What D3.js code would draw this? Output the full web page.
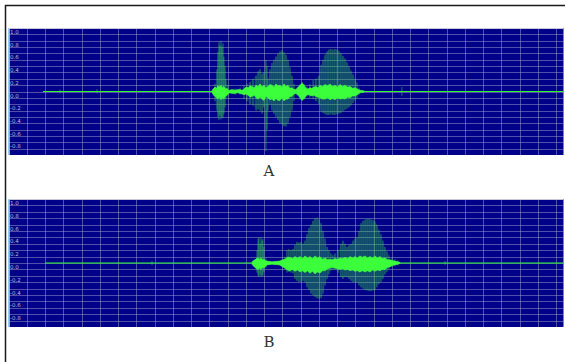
<!DOCTYPE html>
<html>
<head>
<meta charset="utf-8">
<script src="https://cdn.jsdelivr.net/npm/d3@7"></script>
<style>
  html, body { margin: 0; padding: 0; background: #fff; }
  svg { display: block; }
</style>
</head>
<body>
<div class="chart"></div>
<script>
// time axis (seconds) and amplitude ticks
const duration = 3.04;
const gridTimes = d3.range(1, 31).map(d => d / 10);
const gridAmps = d3.range(-9, 10).map(d => d / 10);
const ampLabels = [1.0, 0.8, 0.6, 0.4, 0.2, 0.0, -0.2, -0.4, -0.6, -0.8];
const panelNames = ["A", "B"];

// panel A - voiced pulses (peak / trough per pulse)
const aSpikeT  = [0.282, 0.485, 1.131, 1.142, 1.147, 1.153, 1.158, 1.164, 1.169, 1.175, 1.180, 1.186, 1.191, 1.202, 1.219, 1.241, 1.268,
  1.290, 1.306, 1.323, 1.339, 1.356, 1.367, 1.378, 1.389, 1.399, 1.410, 1.416, 1.421, 1.432,
  1.443, 1.454, 1.465, 1.476, 1.487, 1.498, 1.509, 1.520, 1.531, 1.542, 1.553, 1.564, 1.580,
  1.597, 1.608, 1.619, 1.635, 1.651, 1.668, 1.684, 1.701,
  1.712, 1.723, 1.734, 1.745, 1.755, 1.766, 1.777, 1.788, 1.799, 1.810, 1.821, 1.832, 1.843, 1.854, 1.865, 1.876, 1.887, 1.898, 1.909, 1.920, 2.155];
const aSpikeHi = [0.03, 0.04, 0.12, 0.35, 0.62, 0.78, 0.72, 0.80, 0.70, 0.76, 0.55, 0.40, 0.20, 0.10, 0.04, 0.05, 0.06,
  0.10, 0.12, 0.15, 0.20, 0.25, 0.32, 0.35, 0.28, 0.30, 0.50, 0.40, 0.20, 0.35,
  0.45, 0.50, 0.55, 0.60, 0.63, 0.65, 0.62, 0.58, 0.50, 0.38, 0.25, 0.12, 0.06,
  0.12, 0.15, 0.12, 0.08, 0.12, 0.18, 0.20, 0.25,
  0.42, 0.50, 0.58, 0.63, 0.66, 0.67, 0.66, 0.67, 0.66, 0.64, 0.60, 0.56, 0.52, 0.46, 0.40, 0.33, 0.27, 0.20, 0.14, 0.06, 0.07];
const aSpikeLo = [-0.03, -0.03, -0.15, -0.30, -0.40, -0.45, -0.38, -0.44, -0.40, -0.42, -0.35, -0.25, -0.12, -0.08, -0.04, -0.05, -0.05,
  -0.12, -0.15, -0.20, -0.22, -0.30, -0.28, -0.30, -0.35, -0.25, -0.94, -0.60, -0.30, -0.20,
  -0.30, -0.35, -0.40, -0.45, -0.50, -0.52, -0.55, -0.55, -0.50, -0.40, -0.30, -0.15, -0.06,
  -0.13, -0.14, -0.12, -0.08, -0.10, -0.12, -0.15, -0.20,
  -0.31, -0.34, -0.36, -0.37, -0.37, -0.36, -0.37, -0.37, -0.36, -0.35, -0.34, -0.31, -0.29, -0.27, -0.25, -0.22, -0.18, -0.14, -0.10, -0.05, -0.07];
// panel A - dense noisy core around zero
const aCoreT  = [1.115, 1.124, 1.131, 1.139, 1.147, 1.155, 1.164, 1.172, 1.180, 1.189, 1.197, 1.205, 1.213, 1.227, 1.241, 1.255, 1.268, 1.279, 1.290, 1.301, 1.312, 1.323, 1.334, 1.345,
  1.356, 1.367, 1.378, 1.389, 1.399, 1.410, 1.421, 1.432, 1.443, 1.454, 1.465, 1.476, 1.487, 1.498, 1.509, 1.520, 1.531, 1.542, 1.553, 1.564, 1.575,
  1.586, 1.597, 1.608, 1.616, 1.624, 1.632, 1.640, 1.651, 1.662, 1.673, 1.684, 1.695, 1.706, 1.720, 1.734, 1.748, 1.761, 1.775, 1.788, 1.802, 1.816, 1.830,
  1.843, 1.857, 1.871, 1.884, 1.898, 1.911, 1.925, 1.947];
const aCoreHi = [0.02, 0.05, 0.07, 0.05, 0.09, 0.07, 0.10, 0.06, 0.08, 0.04, 0.05, 0.02, 0.02, 0.03, 0.02, 0.03, 0.03, 0.02, 0.04, 0.07, 0.06, 0.09, 0.08, 0.06,
  0.10, 0.08, 0.12, 0.07, 0.10, 0.06, 0.08, 0.11, 0.10, 0.07, 0.12, 0.09, 0.10, 0.07, 0.12, 0.08, 0.10, 0.05, 0.06, 0.03, 0.03,
  0.07, 0.10, 0.13, 0.11, 0.08, 0.05, 0.04, 0.06, 0.05, 0.07, 0.08, 0.06, 0.10, 0.08, 0.11, 0.09, 0.12, 0.08, 0.10, 0.07, 0.11, 0.08,
  0.10, 0.07, 0.08, 0.05, 0.06, 0.04, 0.02, 0.01];
const aCoreLo = [-0.02, -0.06, -0.08, -0.10, -0.12, -0.09, -0.13, -0.10, -0.12, -0.07, -0.06, -0.03, -0.02, -0.03, -0.03, -0.02, -0.03, -0.04, -0.05, -0.04, -0.06, -0.09, -0.08, -0.06,
  -0.10, -0.12, -0.09, -0.12, -0.14, -0.08, -0.10, -0.13, -0.12, -0.15, -0.11, -0.14, -0.14, -0.10, -0.15, -0.12, -0.12, -0.08, -0.08, -0.04, -0.03,
  -0.06, -0.10, -0.14, -0.12, -0.10, -0.06, -0.05, -0.06, -0.07, -0.06, -0.08, -0.09, -0.10, -0.12, -0.12, -0.10, -0.13, -0.11, -0.13, -0.10, -0.12, -0.11,
  -0.12, -0.09, -0.10, -0.07, -0.07, -0.05, -0.02, -0.01];
const aStart = 0.189;

// panel B - voiced pulses
const bSpikeT  = [0.786, 1.350, 1.361, 1.367, 1.372, 1.378, 1.383, 1.389, 1.394, 1.399, 1.410, 1.432, 1.460, 1.487,
  1.514, 1.525, 1.536, 1.547, 1.558, 1.569, 1.580, 1.591, 1.602, 1.613, 1.624, 1.635, 1.646, 1.657, 1.668, 1.679, 1.690, 1.701, 1.712, 1.723, 1.734, 1.745, 1.755, 1.766, 1.777,
  1.788, 1.805, 1.821, 1.832, 1.843, 1.854, 1.865, 1.876, 1.887, 1.898, 1.909, 1.920, 1.931, 1.942, 1.953, 1.964, 1.975, 1.986, 1.997, 2.007, 2.018, 2.029, 2.040, 2.051, 2.062, 2.073, 2.084, 2.101, 2.117, 2.133, 2.391];
const bSpikeHi = [0.03, 0.05, 0.20, 0.38, 0.40, 0.30, 0.40, 0.35, 0.38, 0.25, 0.08, 0.03, 0.03, 0.04,
  0.10, 0.20, 0.22, 0.20, 0.22, 0.28, 0.33, 0.32, 0.33, 0.30, 0.35, 0.45, 0.55, 0.60, 0.66, 0.70, 0.71, 0.68, 0.62, 0.50, 0.38, 0.25, 0.20, 0.15, 0.12,
  0.15, 0.20, 0.30, 0.35, 0.30, 0.25, 0.28, 0.30, 0.35, 0.38, 0.40, 0.50, 0.62, 0.66, 0.68, 0.69, 0.69, 0.68, 0.67, 0.65, 0.60, 0.52, 0.45, 0.35, 0.25, 0.18, 0.12, 0.08, 0.06, 0.04, 0.03];
const bSpikeLo = [-0.03, -0.06, -0.15, -0.20, -0.22, -0.18, -0.22, -0.20, -0.20, -0.14, -0.08, -0.03, -0.03, -0.04,
  -0.10, -0.15, -0.14, -0.15, -0.16, -0.25, -0.28, -0.30, -0.30, -0.28, -0.30, -0.38, -0.42, -0.48, -0.50, -0.53, -0.55, -0.56, -0.55, -0.48, -0.35, -0.25, -0.18, -0.12, -0.10,
  -0.10, -0.15, -0.22, -0.25, -0.22, -0.22, -0.25, -0.28, -0.30, -0.30, -0.30, -0.35, -0.38, -0.40, -0.42, -0.43, -0.44, -0.44, -0.43, -0.42, -0.38, -0.33, -0.30, -0.25, -0.18, -0.14, -0.10, -0.06, -0.05, -0.04, -0.03];
// panel B - dense noisy core
const bCoreT  = [1.334, 1.342, 1.350, 1.358, 1.367, 1.375, 1.383, 1.391, 1.399, 1.408, 1.416, 1.443, 1.487, 1.500, 1.514, 1.528, 1.542, 1.555, 1.569, 1.583, 1.597, 1.610,
  1.624, 1.638, 1.651, 1.665, 1.679, 1.692, 1.706, 1.720, 1.734, 1.748, 1.761, 1.775, 1.788, 1.802, 1.816, 1.830, 1.843, 1.857, 1.871, 1.884, 1.898, 1.911,
  1.925, 1.939, 1.953, 1.966, 1.980, 1.994, 2.007, 2.021, 2.035, 2.048, 2.062, 2.076, 2.090, 2.103, 2.117, 2.144];
const bCoreHi = [0.02, 0.04, 0.05, 0.07, 0.08, 0.06, 0.08, 0.05, 0.06, 0.04, 0.03, 0.02, 0.03, 0.05, 0.06, 0.09, 0.09, 0.07, 0.10, 0.08, 0.10, 0.07,
  0.11, 0.08, 0.10, 0.07, 0.11, 0.08, 0.10, 0.06, 0.08, 0.05, 0.06, 0.05, 0.07, 0.06, 0.08, 0.07, 0.09, 0.07, 0.10, 0.08, 0.10, 0.08,
  0.11, 0.09, 0.11, 0.08, 0.10, 0.08, 0.11, 0.08, 0.10, 0.07, 0.08, 0.05, 0.05, 0.04, 0.03, 0.01];
const bCoreLo = [-0.02, -0.05, -0.07, -0.09, -0.10, -0.08, -0.10, -0.07, -0.08, -0.05, -0.03, -0.02, -0.03, -0.06, -0.08, -0.11, -0.12, -0.10, -0.13, -0.11, -0.14, -0.12,
  -0.15, -0.12, -0.16, -0.13, -0.17, -0.14, -0.16, -0.12, -0.12, -0.09, -0.08, -0.07, -0.08, -0.09, -0.10, -0.09, -0.11, -0.10, -0.12, -0.11, -0.13, -0.12,
  -0.14, -0.12, -0.14, -0.12, -0.14, -0.11, -0.13, -0.11, -0.12, -0.10, -0.10, -0.07, -0.06, -0.04, -0.03, -0.01];
const bStart = 0.200;

const width = 565, height = 362;
const panels = [
  { top: 28, bottom: 155, spikeT: aSpikeT, spikeHi: aSpikeHi, spikeLo: aSpikeLo, coreT: aCoreT, coreHi: aCoreHi, coreLo: aCoreLo, start: aStart, labelY: 176 },
  { top: 199, bottom: 327, spikeT: bSpikeT, spikeHi: bSpikeHi, spikeLo: bSpikeLo, coreT: bCoreT, coreHi: bCoreHi, coreLo: bCoreLo, start: bStart, labelY: 347 }
];

const x = d3.scaleLinear().domain([0, duration]).range([8.5, 563.5]);

const svg = d3.select(".chart").append("svg")
  .attr("width", width)
  .attr("height", height);

svg.append("rect").attr("width", width).attr("height", height).attr("fill", "#fff");

// outer frame (top and left)
svg.append("path")
  .attr("d", "M5.5,362V5.5H565")
  .attr("fill", "none")
  .attr("stroke", "#1a1a1a")
  .attr("stroke-width", 1.5);

panels.forEach((p, i) => {
  const y = d3.scaleLinear().domain([-1, 1]).range([p.bottom, p.top]);
  const g = svg.append("g");
  const [x0, x1] = x.range();

  g.append("rect")
    .attr("x", x0).attr("y", p.top)
    .attr("width", x1 - x0).attr("height", p.bottom - p.top)
    .attr("fill", "#000088");

  // grid lines via axes
  const yGrid = g.append("g")
    .attr("transform", "translate(" + x0 + ",0)")
    .call(d3.axisRight(y).tickValues(gridAmps).tickSize(x1 - x0).tickFormat(""));
  const xGrid = g.append("g")
    .attr("transform", "translate(0," + p.top + ")")
    .call(d3.axisBottom(x).tickValues(gridTimes).tickSize(p.bottom - p.top).tickFormat(""));
  [yGrid, xGrid].forEach(a => {
    a.select(".domain").remove();
    a.selectAll("line").attr("stroke", "#a0a0cc").attr("stroke-opacity", 0.5).attr("shape-rendering", "crispEdges");
  });

  // amplitude labels inside the panel
  g.selectAll("text.amp").data(ampLabels).join("text")
    .attr("class", "amp")
    .attr("x", x0 + 1.5)
    .attr("y", d => y(d) + 6)
    .attr("fill", "#b8b8dc")
    .attr("font-family", "DejaVu Sans, sans-serif")
    .attr("font-size", 5.5)
    .text(d => d.toFixed(1));

  // panel edges
  g.append("line").attr("x1", x0).attr("x2", x1).attr("y1", p.top + 0.5).attr("y2", p.top + 0.5)
    .attr("stroke", "#c8c8d8").attr("stroke-width", 1);
  g.append("line").attr("x1", x0 + 0.5).attr("x2", x0 + 0.5).attr("y1", p.top).attr("y2", p.bottom)
    .attr("stroke", "#9fe6ff").attr("stroke-width", 1.5);

  // baseline
  g.append("line")
    .attr("x1", x(p.start)).attr("x2", x1)
    .attr("y1", y(0)).attr("y2", y(0))
    .attr("stroke", "#2cff2c").attr("stroke-width", 1.2);

  const pulses = p.spikeT.map((t, k) => ({ t: t, hi: p.spikeHi[k], lo: p.spikeLo[k] }));
  const core = p.coreT.map((t, k) => ({ t: t, hi: p.coreHi[k], lo: p.coreLo[k] }));

  // dim haze between pulses
  g.append("path").datum(pulses.filter(d => d.hi > 0.08))
    .attr("fill", "#14a030").attr("fill-opacity", 0.18)
    .attr("d", d3.area().x(d => x(d.t)).y0(d => y(d.lo)).y1(d => y(d.hi)).defined((d, k, arr) => k === 0 || d.t - arr[k - 1].t < 0.02));

  g.selectAll("line.pulse").data(pulses).join("line")
    .attr("class", "pulse")
    .attr("x1", d => x(d.t)).attr("x2", d => x(d.t))
    .attr("y1", d => y(d.hi)).attr("y2", d => y(d.lo))
    .attr("stroke", "#40e850").attr("stroke-opacity", 0.62).attr("stroke-width", 0.8);

  g.append("path").datum(core)
    .attr("fill", "#3cff3c")
    .attr("stroke", "#3cff3c").attr("stroke-width", 0.6)
    .attr("d", d3.area().x(d => x(d.t)).y0(d => y(d.lo)).y1(d => y(d.hi)));

  svg.append("text")
    .attr("x", 269).attr("y", p.labelY)
    .attr("text-anchor", "middle")
    .attr("fill", "#333")
    .attr("font-family", "DejaVu Serif, serif")
    .attr("font-size", 15)
    .text(panelNames[i]);
});
</script>
</body>
</html>
